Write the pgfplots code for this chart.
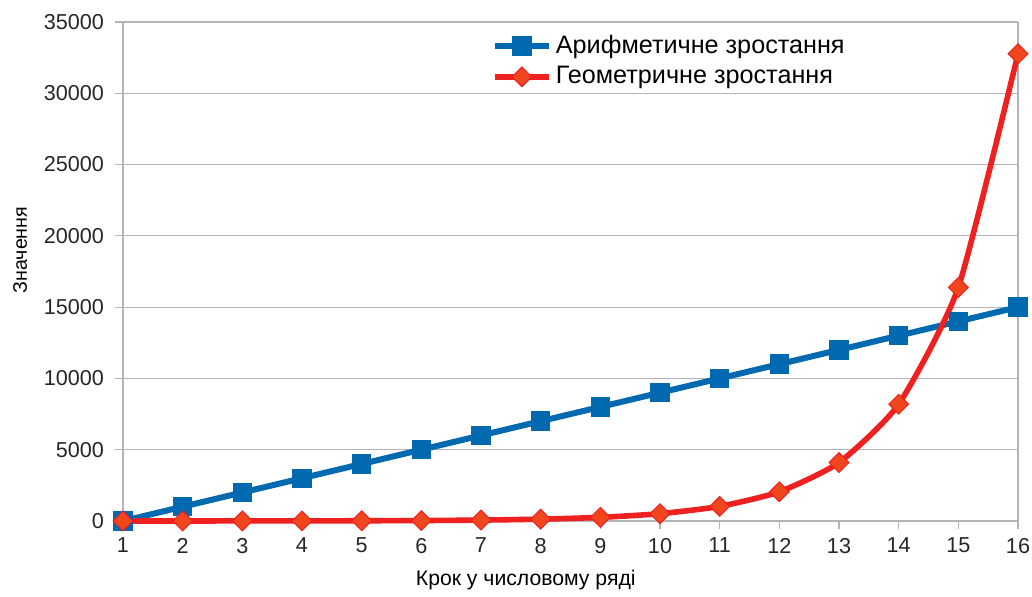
\documentclass[border=0pt]{standalone}
\usepackage{fontspec}
\setmainfont{Liberation Sans}
\usepackage{pgfplots}
\pgfplotsset{compat=1.18}
\definecolor{ablue}{RGB}{0,105,175}
\definecolor{ared}{RGB}{238,32,32}
\definecolor{amark}{RGB}{240,70,30}
\definecolor{gridc}{RGB}{180,180,180}
\begin{document}
\begin{tikzpicture}
\begin{axis}[
  name=ax,
  scale only axis,
  width=447.5pt, height=249.5pt,
  xmin=1, xmax=16, ymin=0, ymax=35000,
  xtick={1,...,16},
  ytick={0,5000,...,35000},
  axis line style={gridc, line width=0.6pt},
  axis x line*=bottom,
  axis y line*=left,
  ymajorgrids,
  major grid style={gridc, line width=0.6pt},
  tick style={gridc, line width=0.6pt},
  tick align=outside,
  major tick length=4pt,
  /pgf/number format/1000 sep={},
  /pgf/number format/assume math mode=true,
  ticklabel style={font=\fontsize{10.8}{12}\selectfont, text=black!85},
  xticklabel style={yshift=-1pt},
  yticklabel style={xshift=-2pt},
  scaled y ticks=false,
  xlabel={Крок у числовому ряді},
  ylabel={Значення},
  x label style={font=\fontsize{10.6}{12}\selectfont, at={(axis description cs:0.45,-0.118)}, anchor=center},
  y label style={font=\fontsize{9.8}{11}\selectfont, at={(axis description cs:-0.115,0.543)}, anchor=center},
  clip=false,
  legend cell align=left,
  legend style={at={(0.405,0.99)}, anchor=north west, draw=none, fill=none,
    font=\fontsize{12.6}{14}\selectfont, row sep=1pt},
  legend image code/.code={
    \draw[#1] (0pt,0pt) -- (13.5pt,0pt) plot coordinates {(13.5pt,0pt)} -- (27pt,0pt);
  },
]
\draw[gridc, line width=0.6pt] (rel axis cs:1,0) -- (rel axis cs:1,1);
\addplot[ablue, line width=3pt, mark=square*, mark size=4.6pt,
  mark options={fill=ablue, draw=ablue, line width=0.5pt}]
coordinates {
(1,0) (2,1000) (3,2000) (4,3000) (5,4000) (6,5000) (7,6000) (8,7000)
(9,8000) (10,9000) (11,10000) (12,11000) (13,12000) (14,13000) (15,14000) (16,15000)
};
\addlegendentry{Арифметичне зростання}
\addplot[ared, line width=2.8pt, smooth, tension=0.35, mark=square*, mark size=3.5pt,
  mark options={fill=amark, draw=ared, line width=0.5pt, solid, rotate=45}]
coordinates {
(1,1) (2,2) (3,4) (4,8) (5,16) (6,32) (7,64) (8,128)
(9,256) (10,512) (11,1024) (12,2048) (13,4096) (14,8192) (15,16384) (16,32768)
};
\addlegendentry{Геометричне зростання}
\end{axis}
\pgfresetboundingbox
\path ([shift={(-61.5pt,-38pt)}]ax.south west) rectangle ([shift={(7pt,11pt)}]ax.north east);
\end{tikzpicture}
\end{document}
